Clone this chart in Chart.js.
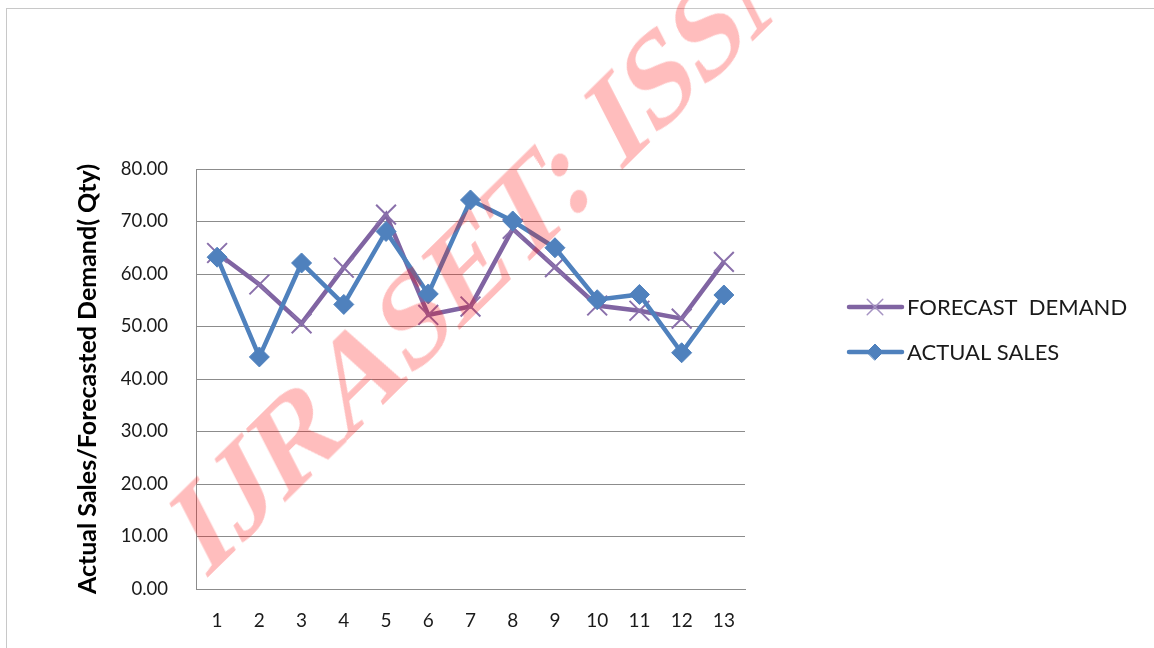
<!DOCTYPE html>
<html>
<head>
<meta charset="utf-8">
<script src="https://cdn.jsdelivr.net/npm/chart.js@4.4.1/dist/chart.umd.min.js"></script>
<style>
  html, body { margin: 0; padding: 0; background: #fff; }
  #wrap { position: relative; width: 1154px; height: 648px; overflow: hidden; }
  #frame { position: absolute; left: 6px; top: 8px; width: 1300px; height: 800px; border: 1px solid #c8c8c8; }
  #chart { position: absolute; left: 0; top: 0; }
  #mark {
    position: absolute; left: 0; top: 0;
    font: bold 100px "Liberation Serif", "DejaVu Serif", serif;
    line-height: 1; white-space: nowrap;
    color: rgba(255, 0, 0, 0.26);
    transform-origin: 0 0;
    transform: matrix(0.876, -0.862, 0.585, 1.138, 156, 486);
    pointer-events: none;
  }
</style>
</head>
<body>
<div id="wrap">
  <div id="frame"></div>
  <canvas id="chart" width="1154" height="648"></canvas>
  <div id="mark">IJRASET: ISSN</div>
</div>
<script>
// periods and the two series
var periods = [ '1', '2', '3', '4', '5', '6', '7', '8', '9', '10', '11', '12', '13' ];
var forecastDemand = [ 64.0, 58.0, 50.6, 61.2, 71.3, 52.2, 53.8, 68.6, 61.3, 54.0, 53.0, 51.5, 62.3 ];
var actualSales = [ 63.2, 44.2, 62.1, 54.2, 68.1, 56.2, 74.1, 70.1, 65.0, 55.1, 56.1, 45.0, 56.0 ];
var seriesNames = [ 'FORECAST  DEMAND', 'ACTUAL SALES' ];

var purple = '#8064a2';
var blue = '#4f81bd';
var font = 'Lato';

// legend drawn beside the plot: line sample with the series marker, then the name
var sideLegend = {
	id: 'sideLegend',
	afterDraw: function (chart) {
		var ctx = chart.ctx;
		var items = [ chart.data.datasets[1], chart.data.datasets[0] ];
		ctx.save();
		items.forEach(function (ds, i) {
			var y = 307 + i * 45;
			var isCross = ds.pointStyle === 'crossRot';
			ctx.strokeStyle = ds.borderColor;
			ctx.lineWidth = 4.5;
			ctx.lineCap = 'round';
			ctx.beginPath();
			ctx.moveTo(849, y);
			ctx.lineTo(902, y);
			ctx.stroke();
			ctx.fillStyle = ds.borderColor;
			ctx.strokeStyle = isCross ? '#a593c2' : ds.borderColor;
			ctx.lineWidth = isCross ? 1.5 : 1;
			Chart.helpers.drawPoint(ctx, {
				pointStyle: ds.pointStyle,
				radius: isCross ? 11 : 8,
				borderWidth: ctx.lineWidth,
				rotation: 0
			}, 875, y);
			ctx.fillStyle = '#1a1a1a';
			ctx.font = '22px ' + font;
			ctx.textBaseline = 'middle';
			ctx.fillText(ds.label, 907, y + 1);
		});
		ctx.restore();
	}
};

var chart = new Chart(document.getElementById('chart'), {
	type: 'line',
	data: {
		labels: periods,
		datasets: [
			{
				label: seriesNames[1],
				data: actualSales,
				borderColor: blue,
				backgroundColor: blue,
				borderWidth: 4.5,
				pointStyle: 'rectRot',
				pointRadius: 10,
				pointBorderWidth: 1,
				pointBackgroundColor: blue,
				pointBorderColor: blue,
				tension: 0
			},
			{
				label: seriesNames[0],
				data: forecastDemand,
				borderColor: purple,
				backgroundColor: purple,
				borderWidth: 4.5,
				pointStyle: 'crossRot',
				pointRadius: 14,
				pointBorderWidth: 2,
				pointBorderColor: '#8a70ab',
				tension: 0
			}
		]
	},
	options: {
		responsive: false,
		animation: false,
		layout: { padding: { left: 73, right: 409, top: 169, bottom: 0 } },
		plugins: {
			legend: { display: false },
			tooltip: { enabled: false }
		},
		scales: {
			x: {
				offset: true,
				afterFit: function (s) { s.height = 59; },
				grid: { display: false, drawTicks: false },
				border: { color: '#8c8c8c', width: 1 },
				ticks: { padding: 20, color: '#1a1a1a', font: { family: font, size: 19 } }
			},
			y: {
				min: 0,
				max: 80,
				afterFit: function (s) { s.width = 123; },
				grid: { color: '#8c8c8c', drawTicks: false },
				border: { color: '#8c8c8c', width: 1 },
				ticks: {
					stepSize: 10,
					padding: 28,
					color: '#1a1a1a',
					font: { family: font, size: 18.5 },
					callback: function (v) { return v.toFixed(2); }
				},
				title: {
					display: true,
					text: 'Actual Sales/Forecasted Demand( Qty)',
					color: '#000',
					font: { family: font, size: 25, weight: 'bold' },
					padding: { top: 0, bottom: 4 }
				}
			}
		}
	},
	plugins: [ sideLegend ]
});
</script>
</body>
</html>
